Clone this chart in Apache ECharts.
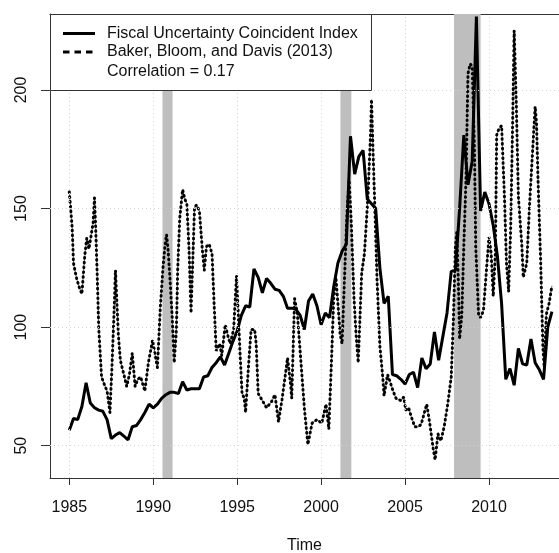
<!DOCTYPE html>
<html><head><meta charset="utf-8">
<script src="https://cdn.jsdelivr.net/npm/echarts@6/dist/echarts.min.js"></script>
<style>html,body{margin:0;padding:0;background:#fff}#c{width:559px;height:553px}</style>
</head><body><div id="c"></div>
<script>
// ---- data ----
const xTicks = [1985, 1990, 1995, 2000, 2005, 2010];
const yTicks = [50, 100, 150, 200];
const seriesNames = ['Fiscal Uncertainty Coincident Index', 'Baker, Bloom, and Davis (2013)'];
const noteText = 'Correlation = 0.17';
const axisTitle = 'Time';

// Fiscal Uncertainty Coincident Index, quarterly 1985Q1 - 2013Q4
const fiscalStartYear = 1985;
const fiscalValues = [
  56.5, 61.5, 61, 66.5,
  76.5, 68, 66, 65,
  64.5, 61, 53, 54.5,
  55.5, 54, 52.5, 58,
  58.5, 61, 64, 67.5,
  66, 67.5, 70, 71.5,
  72.5, 72.5, 72, 77,
  73.5, 74, 74, 74,
  79, 79.5, 83, 85,
  87.5, 84, 89, 94,
  98.5, 105, 109, 108.5,
  124.5, 121, 114.5, 120.5,
  118.5, 116, 115.5, 113,
  108, 108, 107.5, 105,
  99, 111, 114, 109,
  101, 106, 104, 117,
  127, 132, 135, 180.5,
  164.5, 172, 174.5, 154,
  152, 150, 125, 110,
  113, 80, 79.5, 78,
  76, 80, 81, 74.5,
  87, 82.5, 84.5, 98,
  86, 96, 106, 123.5,
  124, 150, 181, 160,
  170, 231, 149, 157,
  152, 143, 130, 110,
  78, 82.5, 75.5, 91,
  84.5, 84, 95, 85,
  82, 78, 100, 106.5
];

// Baker, Bloom and Davis (2013)
const bbdTimes = [
  1985.00, 1985.08, 1985.17, 1985.25, 1985.42, 1985.58, 1985.75, 1985.92,
  1986.04, 1986.17, 1986.33, 1986.42, 1986.50, 1986.58, 1986.67, 1986.75, 1986.92,
  1987.08, 1987.25, 1987.42, 1987.54, 1987.67, 1987.75, 1987.83, 1987.92,
  1988.04, 1988.25, 1988.42, 1988.58, 1988.75, 1988.92,
  1989.08, 1989.25, 1989.50, 1989.71, 1989.96,
  1990.17, 1990.25, 1990.42, 1990.58, 1990.71, 1990.79, 1990.88,
  1991.00, 1991.13, 1991.25, 1991.38, 1991.46, 1991.58, 1991.75, 1991.88,
  1992.00, 1992.13, 1992.25, 1992.38, 1992.46, 1992.58, 1992.75, 1992.92,
  1993.04, 1993.17, 1993.33, 1993.50, 1993.63, 1993.75, 1993.96,
  1994.08, 1994.29, 1994.46, 1994.58, 1994.79, 1994.96,
  1995.17, 1995.29, 1995.42, 1995.50, 1995.67, 1995.83,
  1996.04, 1996.13, 1996.25, 1996.46, 1996.75,
  1997.04, 1997.25, 1997.46, 1997.67, 1997.88,
  1998.00, 1998.17, 1998.25, 1998.42, 1998.58, 1998.79,
  1999.00, 1999.21, 1999.46, 1999.75,
  2000.04, 2000.29, 2000.46, 2000.63, 2000.75, 2000.88,
  2001.00, 2001.13, 2001.25, 2001.38, 2001.54, 2001.67, 2001.79, 2001.96,
  2002.08, 2002.21, 2002.42, 2002.58, 2002.79, 2002.96,
  2003.00, 2003.08, 2003.21, 2003.33, 2003.50, 2003.67, 2003.75, 2003.96,
  2004.08, 2004.29, 2004.46, 2004.75, 2004.92,
  2005.04, 2005.21, 2005.38, 2005.58, 2005.79, 2005.96,
  2006.29, 2006.46, 2006.67, 2006.79, 2006.96,
  2007.13, 2007.33, 2007.54, 2007.75, 2007.88,
  2008.00, 2008.08, 2008.17, 2008.25, 2008.38, 2008.50, 2008.63, 2008.75, 2008.88,
  2009.00, 2009.13, 2009.21, 2009.38, 2009.50, 2009.67, 2009.88,
  2010.00, 2010.13, 2010.25, 2010.38, 2010.46, 2010.58, 2010.75, 2010.92,
  2011.04, 2011.17, 2011.29, 2011.42, 2011.50, 2011.63, 2011.75, 2011.96,
  2012.04, 2012.25, 2012.42, 2012.58, 2012.75, 2012.83, 2012.92,
  2013.08, 2013.21, 2013.29, 2013.42, 2013.58, 2013.75
];
const bbdValues = [
  157, 150, 142, 127, 121, 117, 114, 130,
  137.5, 133, 140, 144, 154.5, 140, 120, 100, 79,
  76, 73, 64, 83, 107, 124, 111, 97,
  86, 80, 75, 80, 89, 75,
  78, 79, 73, 85, 94.5,
  86, 83, 108, 125, 135, 139, 133,
  120, 104, 85, 99, 125, 146, 158, 154,
  152, 133, 106, 133, 150.5, 151.5, 149, 133,
  124, 134, 135, 131, 109, 90, 93,
  88, 101, 96, 93, 99, 121.5,
  89, 72, 70, 64, 83, 99,
  99, 93, 72, 69.5, 66,
  68.5, 71.5, 60, 69.5, 80.5,
  87, 76.5, 70, 112, 106, 86,
  66, 50.5, 59.5, 61,
  59.5, 67.5, 57, 88, 112, 121,
  110, 97, 93, 118, 148, 162, 145, 112,
  97, 85, 123, 131, 155, 184,
  196, 177, 148, 120, 92, 79, 71, 80,
  77.5, 73, 70, 69, 70.5,
  65, 66, 62, 58, 58, 59,
  67.5, 60, 49, 44, 55,
  52, 58, 67.5, 79, 103,
  134, 140, 120, 95, 105, 134, 162, 207, 211,
  210, 176, 134, 105, 104, 107, 127,
  138, 131, 113, 131, 181, 183.5, 185, 155,
  127, 115, 141, 190, 225, 193, 155, 134,
  121, 127, 152, 172, 193, 186, 162,
  127, 91.5, 83, 105.5, 110, 117.5
];

// NBER recessions (shaded)
const recessionStart = [1990.55, 2001.15, 2007.92];
const recessionEnd = [1991.15, 2001.80, 2009.50];

// ---- build ----
const fiscalData = fiscalValues.map((v, i) => [fiscalStartYear + i / 4, v]);
const bbdData = bbdTimes.map((t, i) => [t, bbdValues[i]]);
const recessionAreas = recessionStart.map((s, i) => [{ xAxis: s }, { xAxis: recessionEnd[i] }]);
const gridMarks = xTicks.map(v => ({ xAxis: v })).concat(yTicks.map(v => ({ yAxis: v })));

const FONT = "'Liberation Sans', Arial, sans-serif";
const TXT = '#111';
const X_MIN = 1983.85, X_MAX = 2014.17;
const chart = echarts.init(document.getElementById('c'), null, { renderer: 'canvas' });
chart.setOption({
  animation: false,
  backgroundColor: '#fff',
  textStyle: { fontFamily: FONT },
  grid: { left: 50, right: 0, top: 14, bottom: 75, show: false, containLabel: false, outerBoundsMode: 'none' },
  xAxis: [{
    type: 'value', min: X_MIN, max: X_MAX, position: 'bottom',
    name: axisTitle, nameLocation: 'middle', nameGap: 60,
    nameTextStyle: { fontSize: 16, color: TXT, fontFamily: FONT },
    axisLine: { show: true, onZero: false, lineStyle: { color: '#333', width: 1 } },
    axisTick: { show: true, length: 7, customValues: xTicks, lineStyle: { color: '#333' } },
    axisLabel: { customValues: xTicks, fontSize: 16, color: TXT, margin: 22, fontFamily: FONT,
                 formatter: v => String(v) },
    splitLine: { show: false }
  }, {
    type: 'value', min: X_MIN, max: X_MAX, position: 'top',
    axisLine: { show: true, onZero: false, lineStyle: { color: '#333', width: 1 } },
    axisTick: { show: false }, axisLabel: { show: false }, splitLine: { show: false }
  }],
  yAxis: {
    type: 'value', min: 36.38, max: 232.05,
    axisLine: { show: true, onZero: false, lineStyle: { color: '#333', width: 1 } },
    axisTick: { show: true, length: 9, customValues: yTicks, lineStyle: { color: '#333' } },
    axisLabel: { customValues: yTicks, rotate: 90, fontSize: 16, color: TXT, margin: 20, fontFamily: FONT },
    splitLine: { show: false }
  },
  graphic: [
    { type: 'rect', z: 10, shape: { x: 50.5, y: 14.5, width: 321, height: 76 },
      style: { fill: '#fff', stroke: '#333', lineWidth: 1 } },
    { type: 'line', z: 11, shape: { x1: 63, y1: 33.5, x2: 95, y2: 33.5 },
      style: { stroke: '#000', lineWidth: 3 } },
    { type: 'line', z: 11, shape: { x1: 63, y1: 52, x2: 95, y2: 52 },
      style: { stroke: '#000', lineWidth: 3, lineDash: [6.5, 5] } },
    { type: 'text', z: 11, x: 107, y: 33.5,
      style: { text: seriesNames[0], fontSize: 16, fontFamily: FONT, fill: TXT, verticalAlign: 'middle' } },
    { type: 'text', z: 11, x: 107, y: 52,
      style: { text: seriesNames[1], fontSize: 16, fontFamily: FONT, fill: TXT, verticalAlign: 'middle' } },
    { type: 'text', z: 11, x: 107, y: 71.5,
      style: { text: noteText, fontSize: 16, fontFamily: FONT, fill: TXT, verticalAlign: 'middle' } }
  ],
  series: [
    {
      name: 'grid', type: 'line', data: [], z: 0, silent: true,
      markLine: { silent: true, symbol: 'none', label: { show: false },
        lineStyle: { color: '#d3d3d3', type: [1, 3], width: 1 }, data: gridMarks }
    },
    {
      name: 'recessions', type: 'line', data: [], z: 1, silent: true,
      markArea: { silent: true, itemStyle: { color: '#bebebe', opacity: 1 }, data: recessionAreas }
    },
    {
      name: seriesNames[1] + ' ', type: 'line', data: bbdData, z: 2, symbol: 'none', silent: true,
      lineStyle: { color: '#8c8c8c', width: 1.2 }
    },
    {
      name: seriesNames[1], type: 'line', data: bbdData, z: 2, symbol: 'none',
      lineStyle: { color: '#000', width: 3, type: [0.6, 4.2], cap: 'round' }
    },
    {
      name: seriesNames[0], type: 'line', data: fiscalData, z: 3, symbol: 'none',
      lineStyle: { color: '#000', width: 3 }
    }
  ]
});
</script>
</body></html>
